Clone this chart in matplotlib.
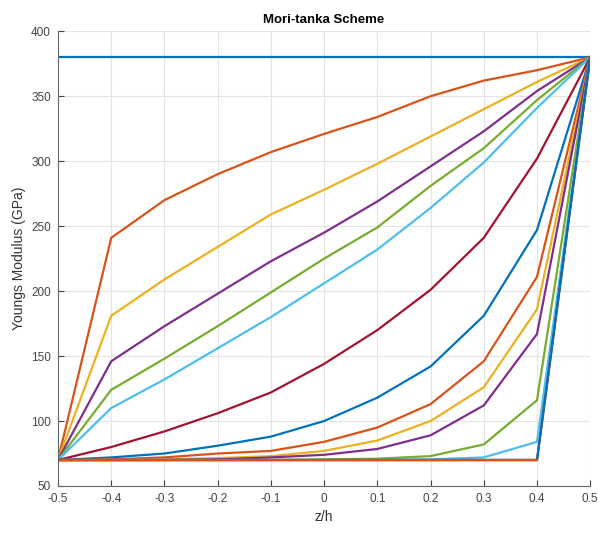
import numpy as np
import matplotlib
matplotlib.use("Agg")
import matplotlib.pyplot as plt

plt.rcParams['font.family'] = ['Liberation Sans', 'DejaVu Sans']

# z/h positions through the thickness
zh = [-0.5, -0.4, -0.3, -0.2, -0.1, 0.0, 0.1, 0.2, 0.3, 0.4, 0.5]

# Young's modulus (GPa) for each curve
E1 = [380, 380, 380, 380, 380, 380, 380, 380, 380, 380, 380]
E2 = [70, 241, 270, 290, 307, 321, 334, 350, 362, 370, 380]
E3 = [70, 181, 209, 234, 259, 278, 298, 319, 340, 361, 380]
E4 = [70, 146, 173, 198, 223, 245, 269, 296, 323, 354, 380]
E5 = [70, 124, 148, 173, 199, 225, 249, 281, 310, 347, 380]
E6 = [70, 110, 132, 156, 180, 206, 232, 264, 299, 341, 380]
E7 = [70, 80, 92, 106, 122, 144, 170, 201, 241, 302, 380]
E8 = [70, 72, 75, 81, 88, 100, 118, 142, 181, 247, 380]
E9 = [70, 70.5, 72, 75, 77, 84, 95, 113, 146, 211, 380]
E10 = [70, 70, 70.5, 71.5, 73, 77, 85, 100, 126, 186, 380]
E11 = [70, 70, 70, 70.5, 72, 74, 78.5, 89, 112, 167, 380]
E12 = [70, 70, 70, 70, 70, 70.5, 71, 73, 82, 116, 380]
E13 = [70, 70, 70, 70, 70, 70, 70, 70.5, 72, 84, 380]
E14 = [70, 70, 70, 70, 70, 70, 70, 70, 70, 70, 380]
E15 = [70, 70, 70, 70, 70, 70, 70, 70, 70, 70, 380]
E16 = [70, 70, 70, 70, 70, 70, 70, 70, 70, 70, np.nan]

curves = [E1, E2, E3, E4, E5, E6, E7, E8, E9, E10, E11, E12, E13, E14, E15, E16]
colors = ['#0072BD', '#D95319', '#EDB120', '#7E2F8E', '#77AC30', '#4DBEEE', '#A2142F']

fig = plt.figure(figsize=(5.98, 5.35), dpi=100)
ax = fig.add_axes([0.097, 0.0916, 0.890, 0.850])

for i, E in enumerate(curves):
    ax.plot(zh, E, '-', color=colors[i % 7], lw=1.6)

ax.set_xlim(-0.5, 0.5)
ax.set_ylim(50, 400)
ax.set_xticks(np.arange(-0.5, 0.51, 0.1))
ax.set_xticklabels(['-0.5', '-0.4', '-0.3', '-0.2', '-0.1', '0', '0.1', '0.2', '0.3', '0.4', '0.5'])
ax.set_yticks(range(50, 401, 50))
ax.grid(True, color='#e4e4e4', lw=0.8)
ax.set_axisbelow(True)
ax.spines['top'].set_visible(False)
ax.spines['right'].set_visible(False)
for s in ['left', 'bottom']:
    ax.spines[s].set_color('#666666')
ax.tick_params(direction='in', length=4, colors='#444444', labelsize=8.5, pad=5)

ax.set_xlabel('z/h', fontsize=10, color='#333333', labelpad=4)
ax.set_ylabel('Youngs Modulus (GPa)', fontsize=10, color='#333333', labelpad=4)
ax.set_title('Mori-tanka Scheme', fontsize=9.5, fontweight='bold', pad=6)

fig.savefig('out.png', dpi=100)
